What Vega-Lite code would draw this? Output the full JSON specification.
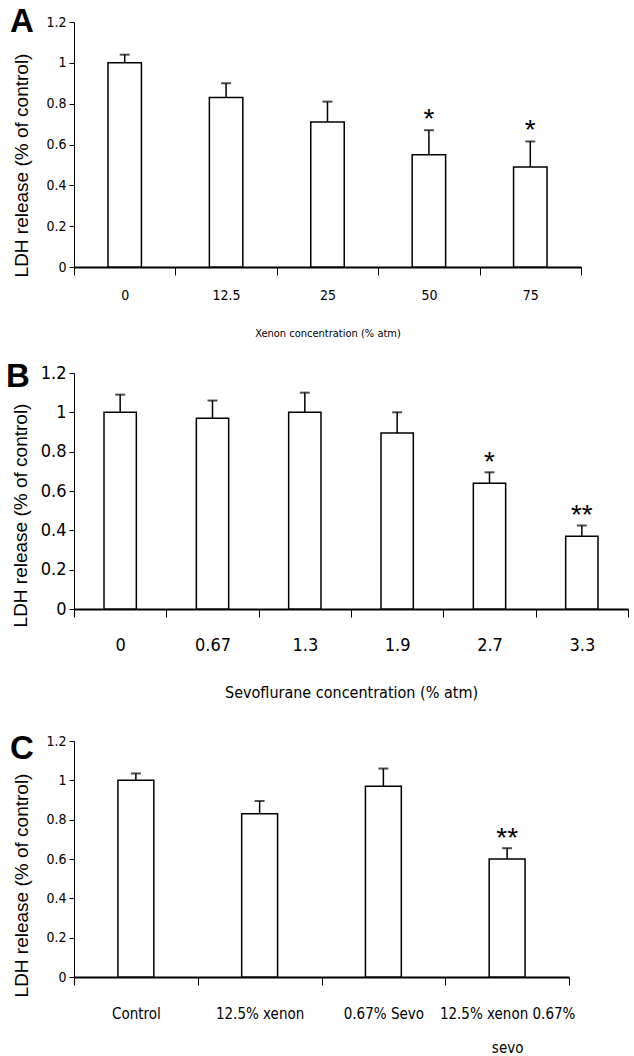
{
  "$schema": "https://vega.github.io/schema/vega-lite/v6.json",
  "padding": {"top": 6, "left": 6, "right": 0, "bottom": 0},
  "background": "white",
  "spacing": 23,
  "config": {
    "view": {"stroke": null},
    "axis": {"grid": false, "labelOverlap": false, "domainColor": "black", "tickColor": "black", "labelColor": "black", "titleColor": "black", "labelFont": "DejaVu Sans Condensed, Liberation Sans", "titleFont": "Liberation Sans", "titleFontWeight": "normal"},
    "title": {"anchor": "start", "frame": "group", "fontSize": 33, "fontWeight": "bold", "font": "Liberation Sans", "color": "black"}
  },
  "datasets": {
    "a": [
      {"conc": "0", "mean": 1.0, "upper": 1.04, "sig": ""},
      {"conc": "12.5", "mean": 0.83, "upper": 0.90, "sig": ""},
      {"conc": "25", "mean": 0.71, "upper": 0.81, "sig": ""},
      {"conc": "50", "mean": 0.55, "upper": 0.67, "sig": "*"},
      {"conc": "75", "mean": 0.49, "upper": 0.615, "sig": "*"}
    ],
    "b": [
      {"conc": "0", "mean": 1.0, "upper": 1.09, "sig": ""},
      {"conc": "0.67", "mean": 0.97, "upper": 1.06, "sig": ""},
      {"conc": "1.3", "mean": 1.0, "upper": 1.10, "sig": ""},
      {"conc": "1.9", "mean": 0.895, "upper": 1.0, "sig": ""},
      {"conc": "2.7", "mean": 0.64, "upper": 0.695, "sig": "*"},
      {"conc": "3.3", "mean": 0.37, "upper": 0.425, "sig": "**"}
    ],
    "c": [
      {"group": "Control", "mean": 1.0, "upper": 1.035, "sig": ""},
      {"group": "12.5% xenon", "mean": 0.83, "upper": 0.895, "sig": ""},
      {"group": "0.67% Sevo", "mean": 0.97, "upper": 1.06, "sig": ""},
      {"group": "12.5% xenon 0.67% sevo", "mean": 0.60, "upper": 0.655, "sig": "**"}
    ]
  },
  "vconcat": [
    {
      "title": {"text": "A", "dx": -64, "dy": 24, "offset": 0},
      "width": 507,
      "height": 245,
      "data": {"name": "a"},
      "encoding": {
        "x": {"field": "conc", "type": "ordinal", "sort": null, "scale": {"paddingInner": 0, "paddingOuter": 0},
          "axis": {"title": "Xenon concentration (% atm)", "labelAngle": 0, "labelFontSize": 14, "tickBand": "extent", "tickSize": 8, "domainWidth": 2, "labelPadding": 13, "titleFont": "DejaVu Sans Condensed, Liberation Sans", "titleFontSize": 11, "titlePadding": 25}}
      },
      "layer": [
        {"mark": {"type": "rule", "color": "black", "strokeWidth": 1.5},
          "encoding": {"y": {"field": "mean", "type": "quantitative", "scale": {"domain": [0, 1.2]},
            "axis": {"title": "LDH release (% of control)", "titleFontSize": 19, "titleY": 143, "values": [0, 0.2, 0.4, 0.6, 0.8, 1, 1.2], "tickCount": 10, "format": ".1~f", "labelOverlap": false, "labelFontSize": 14, "tickSize": 5, "labelPadding": 3, "titlePadding": 14}},
            "y2": {"field": "upper"}}},
        {"mark": {"type": "tick", "color": "black", "size": 10, "thickness": 2},
          "encoding": {"y": {"field": "upper", "type": "quantitative"}}},
        {"mark": {"type": "bar", "fill": "white", "stroke": "black", "strokeWidth": 1.5, "width": {"band": 0.33}},
          "encoding": {"y": {"field": "mean", "type": "quantitative"}}},
        {"mark": {"type": "text", "baseline": "alphabetic", "fontSize": 28, "font": "Liberation Sans", "dy": -2, "color": "black"},
          "encoding": {"y": {"field": "upper", "type": "quantitative"}, "text": {"field": "sig"}}}
      ]
    },
    {
      "title": {"text": "B", "dx": -68, "dy": 30, "offset": 0},
      "width": 554,
      "height": 236,
      "data": {"name": "b"},
      "encoding": {
        "x": {"field": "conc", "type": "ordinal", "sort": null, "scale": {"paddingInner": 0, "paddingOuter": 0},
          "axis": {"title": ["Sevoflurane concentration (% atm)", " "], "titleLineHeight": 10, "labelAngle": 0, "labelFontSize": 18, "tickBand": "extent", "tickSize": 8, "domainWidth": 2, "labelPadding": 19, "titleFont": "DejaVu Sans Condensed, Liberation Sans", "titleFontSize": 16, "titlePadding": 30}}
      },
      "layer": [
        {"mark": {"type": "rule", "color": "black", "strokeWidth": 1.5},
          "encoding": {"y": {"field": "mean", "type": "quantitative", "scale": {"domain": [0, 1.2]},
            "axis": {"title": "LDH release (% of control)", "titleFontSize": 19, "titleY": 142, "values": [0, 0.2, 0.4, 0.6, 0.8, 1, 1.2], "tickCount": 10, "format": ".1~f", "labelOverlap": false, "labelFontSize": 18, "tickSize": 5, "labelPadding": 3, "titlePadding": 10}},
            "y2": {"field": "upper"}}},
        {"mark": {"type": "tick", "color": "black", "size": 10, "thickness": 2},
          "encoding": {"y": {"field": "upper", "type": "quantitative"}}},
        {"mark": {"type": "bar", "fill": "white", "stroke": "black", "strokeWidth": 1.5, "width": {"band": 0.35}},
          "encoding": {"y": {"field": "mean", "type": "quantitative"}}},
        {"mark": {"type": "text", "baseline": "alphabetic", "fontSize": 28, "font": "Liberation Sans", "dy": -1, "color": "black"},
          "encoding": {"y": {"field": "upper", "type": "quantitative"}, "text": {"field": "sig"}}}
      ]
    },
    {
      "title": {"text": "C", "dx": -64, "dy": 32, "offset": 0},
      "width": 495,
      "height": 236,
      "data": {"name": "c"},
      "encoding": {
        "x": {"field": "group", "type": "nominal", "sort": null, "scale": {"paddingInner": 0, "paddingOuter": 0},
          "axis": {"title": null, "labelAngle": 0, "labelFontSize": 15, "tickBand": "extent", "tickSize": 8, "domainWidth": 2, "labelPadding": 21, "labelLineHeight": 34,
            "labelExpr": "datum.value == '12.5% xenon 0.67% sevo' ? ['12.5% xenon 0.67%', 'sevo'] : datum.label"}}
      },
      "layer": [
        {"mark": {"type": "rule", "color": "black", "strokeWidth": 1.5},
          "encoding": {"y": {"field": "mean", "type": "quantitative", "scale": {"domain": [0, 1.2]},
            "axis": {"title": "LDH release (% of control)", "titleFontSize": 19, "titleY": 144, "values": [0, 0.2, 0.4, 0.6, 0.8, 1, 1.2], "tickCount": 10, "format": ".1~f", "labelOverlap": false, "labelFontSize": 14, "tickSize": 5, "labelPadding": 3, "titlePadding": 14}},
            "y2": {"field": "upper"}}},
        {"mark": {"type": "tick", "color": "black", "size": 10, "thickness": 2},
          "encoding": {"y": {"field": "upper", "type": "quantitative"}}},
        {"mark": {"type": "bar", "fill": "white", "stroke": "black", "strokeWidth": 1.5, "width": {"band": 0.29}},
          "encoding": {"y": {"field": "mean", "type": "quantitative"}}},
        {"mark": {"type": "text", "baseline": "alphabetic", "fontSize": 28, "font": "Liberation Sans", "dy": -1, "color": "black"},
          "encoding": {"y": {"field": "upper", "type": "quantitative"}, "text": {"field": "sig"}}}
      ]
    }
  ]
}
